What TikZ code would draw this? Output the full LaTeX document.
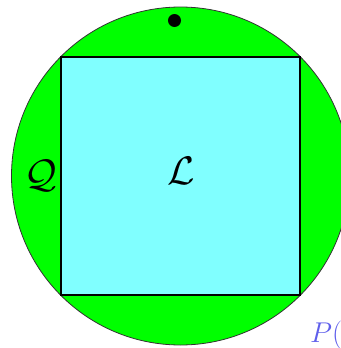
\documentclass[tikz,border=0pt]{standalone}
\usepackage{tikz}
\definecolor{bggreen}{RGB}{0,255,0}
\definecolor{lightcyan}{RGB}{128,255,255}
\definecolor{plabel}{RGB}{95,95,235}
\begin{document}
\begin{tikzpicture}[x=1pt,y=-1pt,
  disk/.style={draw=black!80,line width=0.8pt,fill=bggreen},
  sq/.style={draw=black,line width=1.2pt,fill=lightcyan},
  lbl/.style={inner sep=0pt,font=\Huge,scale=1.6}]
\useasboundingbox (0,0) rectangle (340,348);
\path[disk] (180.5,176) circle[radius=169];
\node[sq,minimum width=239pt,minimum height=238pt,inner sep=0pt] (L) at (180.5,176) {};
\fill (174.5,20.5) circle[radius=6.5];
\node[lbl] (lt) at (181,171) {$\mathcal{L}$};
\node[lbl] (qt) at (41,176) {$\mathcal{Q}$};
\node[inner sep=0pt,anchor=base west,text=plabel,font=\Huge,scale=1.15] (pt) at (310,342) {$P($};
\end{tikzpicture}
\end{document}
